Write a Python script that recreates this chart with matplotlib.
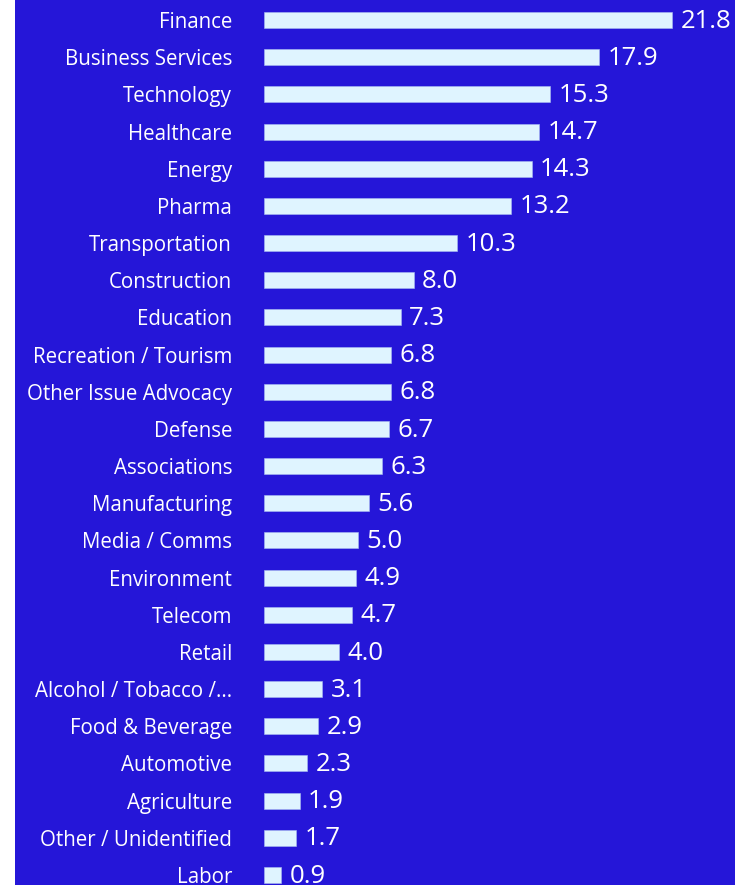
import matplotlib.pyplot as plt
from matplotlib.patches import Rectangle

categories = ["Finance", "Business Services", "Technology", "Healthcare", "Energy",
              "Pharma", "Transportation", "Construction", "Education",
              "Recreation / Tourism", "Other Issue Advocacy", "Defense",
              "Associations", "Manufacturing", "Media / Comms", "Environment",
              "Telecom", "Retail", "Alcohol / Tobacco /...", "Food & Beverage",
              "Automotive", "Agriculture", "Other / Unidentified", "Labor"]
values = [21.8, 17.9, 15.3, 14.7, 14.3, 13.2, 10.3, 8.0, 7.3, 6.8, 6.8, 6.7,
          6.3, 5.6, 5.0, 4.9, 4.7, 4.0, 3.1, 2.9, 2.3, 1.9, 1.7, 0.9]

bg = "#2516d8"
bar_color = "#dff4ff"

fig = plt.figure(figsize=(7.35, 8.85), dpi=100, facecolor=bg)
fig.patches.append(Rectangle((0, 0), 15 / 735, 1, transform=fig.transFigure,
                             facecolor="white", edgecolor="none", zorder=0))

ax = fig.add_axes([264 / 735, 0, 468 / 735, 1])
ax.set_facecolor("none")
ypos = list(range(len(categories)))
ax.barh(ypos, values, height=0.43, color=bar_color, edgecolor="#a9bcf2", linewidth=0.4)
for y, v in zip(ypos, values):
    ax.text(v + 0.45, y + 0.03, f"{v:.1f}", va="center", ha="left", color="white",
            fontsize=18.5, family="Open Sans")

ax.set_xlim(0, 25)
ax.set_ylim(23.27, -0.538)
ax.set_yticks(ypos)
ax.set_yticklabels(categories, color="white", fontsize=14.8, family="Open Sans")
ax.tick_params(axis="y", length=0, pad=23)
ax.set_xticks([])
for s in ax.spines.values():
    s.set_visible(False)

fig.savefig("out.png", dpi=100, facecolor=bg)
